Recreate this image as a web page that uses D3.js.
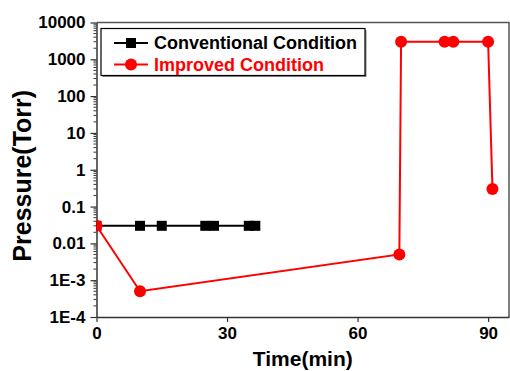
<!DOCTYPE html>
<html>
<head>
<meta charset="utf-8">
<script src="https://cdn.jsdelivr.net/npm/d3@7"></script>
<style>
  html, body { margin: 0; padding: 0; background: #fff; }
  svg { display: block; font-family: Arial, "Liberation Sans", sans-serif; }
</style>
</head>
<body>
<svg id="chart" width="510" height="371"></svg>
<script>
const seriesNames = ["Conventional Condition", "Improved Condition"];
const seriesColors = ["#000000", "#ff0000"];

const conventionalTime = [0, 10, 15, 25, 27, 35, 36.5];
const conventionalPressure = [0.03, 0.03, 0.03, 0.03, 0.03, 0.03, 0.03];

const improvedTime = [0, 10, 69.6, 70, 80, 82, 90, 91];
const improvedPressure = [0.03, 5e-4, 0.005, 3000, 3000, 3000, 3000, 0.3];

const xTicks = [0, 30, 60, 90];
const yTicks = [1e-4, 1e-3, 0.01, 0.1, 1, 10, 100, 1000, 10000];
const yTickLabels = ["1E-4", "1E-3", "0.01", "0.1", "1", "10", "100", "1000", "10000"];

const width = 510, height = 371;
const margin = { top: 22.5, right: 1, bottom: 54, left: 96.5 };
const innerW = width - margin.left - margin.right;
const innerH = height - margin.top - margin.bottom;
const axisColor = "#333333";

const svg = d3.select("#chart");
const root = svg.append("g").attr("transform", `translate(${margin.left},${margin.top})`);

const x = d3.scaleLinear().domain([0, 94.8]).range([0, innerW]);
const y = d3.scaleLog().domain([1e-4, 1e4]).range([innerH, 0]);

svg.append("defs").append("clipPath").attr("id", "plot-clip")
  .append("rect").attr("x", 0).attr("y", 0).attr("width", innerW).attr("height", innerH);

// frame (top + right)
root.append("path")
  .attr("d", `M0,0H${innerW}V${innerH}`)
  .attr("fill", "none").attr("stroke", "#555").attr("stroke-width", 1.5);

// x axis
const gx = root.append("g").attr("transform", `translate(0,${innerH})`)
  .call(d3.axisBottom(x).tickValues(xTicks).tickSize(5).tickSizeOuter(0).tickPadding(5));
gx.select(".domain").attr("stroke", axisColor).attr("stroke-width", 1.5);
gx.selectAll(".tick line").attr("stroke", axisColor).attr("stroke-width", 1.2);
gx.selectAll("text").attr("fill", "#000").style("font-size", "17px").style("font-weight", "bold");

// y minor ticks
const minor = [];
for (let e = -4; e < 4; e++) for (let m = 2; m <= 9; m++) minor.push(m * Math.pow(10, e));
root.append("g").selectAll("line").data(minor).join("line")
  .attr("x1", -3).attr("x2", 0)
  .attr("y1", (d) => y(d)).attr("y2", (d) => y(d))
  .attr("stroke", axisColor).attr("stroke-width", 1);

// y axis
const gy = root.append("g")
  .call(d3.axisLeft(y).tickValues(yTicks).tickSize(6).tickSizeOuter(0).tickPadding(5)
    .tickFormat((d, i) => yTickLabels[i]));
gy.select(".domain").attr("stroke", axisColor).attr("stroke-width", 1.5);
gy.selectAll(".tick line").attr("stroke", axisColor).attr("stroke-width", 1.2);
gy.selectAll("text").attr("fill", "#000").style("font-size", "17px").style("font-weight", "bold");

// axis titles
svg.append("text")
  .attr("x", margin.left + innerW / 2).attr("y", 366)
  .attr("text-anchor", "middle")
  .style("font-size", "21px").style("font-weight", "bold")
  .text("Time(min)");
svg.append("text")
  .attr("transform", `translate(31,${margin.top + innerH / 2 + 6}) rotate(-90)`)
  .attr("text-anchor", "middle")
  .style("font-size", "25px").style("font-weight", "bold")
  .text("Pressure(Torr)");

const plot = root.append("g").attr("clip-path", "url(#plot-clip)");
const line = d3.line().x((d) => x(d[0])).y((d) => y(d[1]));

const convData = conventionalTime.map((t, i) => [t, conventionalPressure[i]]);
const impData = improvedTime.map((t, i) => [t, improvedPressure[i]]);

plot.append("path").datum(convData).attr("d", line)
  .attr("fill", "none").attr("stroke", seriesColors[0]).attr("stroke-width", 2);
plot.selectAll("rect.conv").data(convData).join("rect").attr("class", "conv")
  .attr("x", (d) => x(d[0]) - 5).attr("y", (d) => y(d[1]) - 5)
  .attr("width", 10).attr("height", 10).attr("fill", seriesColors[0]);

plot.append("path").datum(impData).attr("d", line)
  .attr("fill", "none").attr("stroke", seriesColors[1]).attr("stroke-width", 2);
plot.selectAll("circle.imp").data(impData).join("circle").attr("class", "imp")
  .attr("cx", (d) => x(d[0])).attr("cy", (d) => y(d[1]))
  .attr("r", 6).attr("fill", seriesColors[1]);

// legend
const legend = svg.append("g").attr("transform", "translate(101,28.5)");
legend.append("rect").attr("x", 1.5).attr("y", 1.5).attr("width", 264).attr("height", 47).attr("fill", "#888");
legend.append("rect").attr("width", 264).attr("height", 47)
  .attr("fill", "#fff").attr("stroke", "#000").attr("stroke-width", 1.2);
seriesNames.forEach((name, i) => {
  const ly = 14.5 + i * 21.5;
  const row = legend.append("g").attr("transform", `translate(0,${ly})`);
  row.append("line").attr("x1", 13).attr("x2", 47).attr("y1", 0).attr("y2", 0)
    .attr("stroke", seriesColors[i]).attr("stroke-width", 2);
  if (i === 0) {
    row.append("rect").attr("x", 25).attr("y", -5).attr("width", 10).attr("height", 10).attr("fill", seriesColors[i]);
  } else {
    row.append("circle").attr("cx", 30).attr("cy", 0).attr("r", 6).attr("fill", seriesColors[i]);
  }
  row.append("text").attr("x", 53).attr("y", 0).attr("dy", "0.35em")
    .attr("fill", seriesColors[i])
    .style("font-size", "18px").style("font-weight", "bold")
    .text(name);
});
</script>
</body>
</html>
